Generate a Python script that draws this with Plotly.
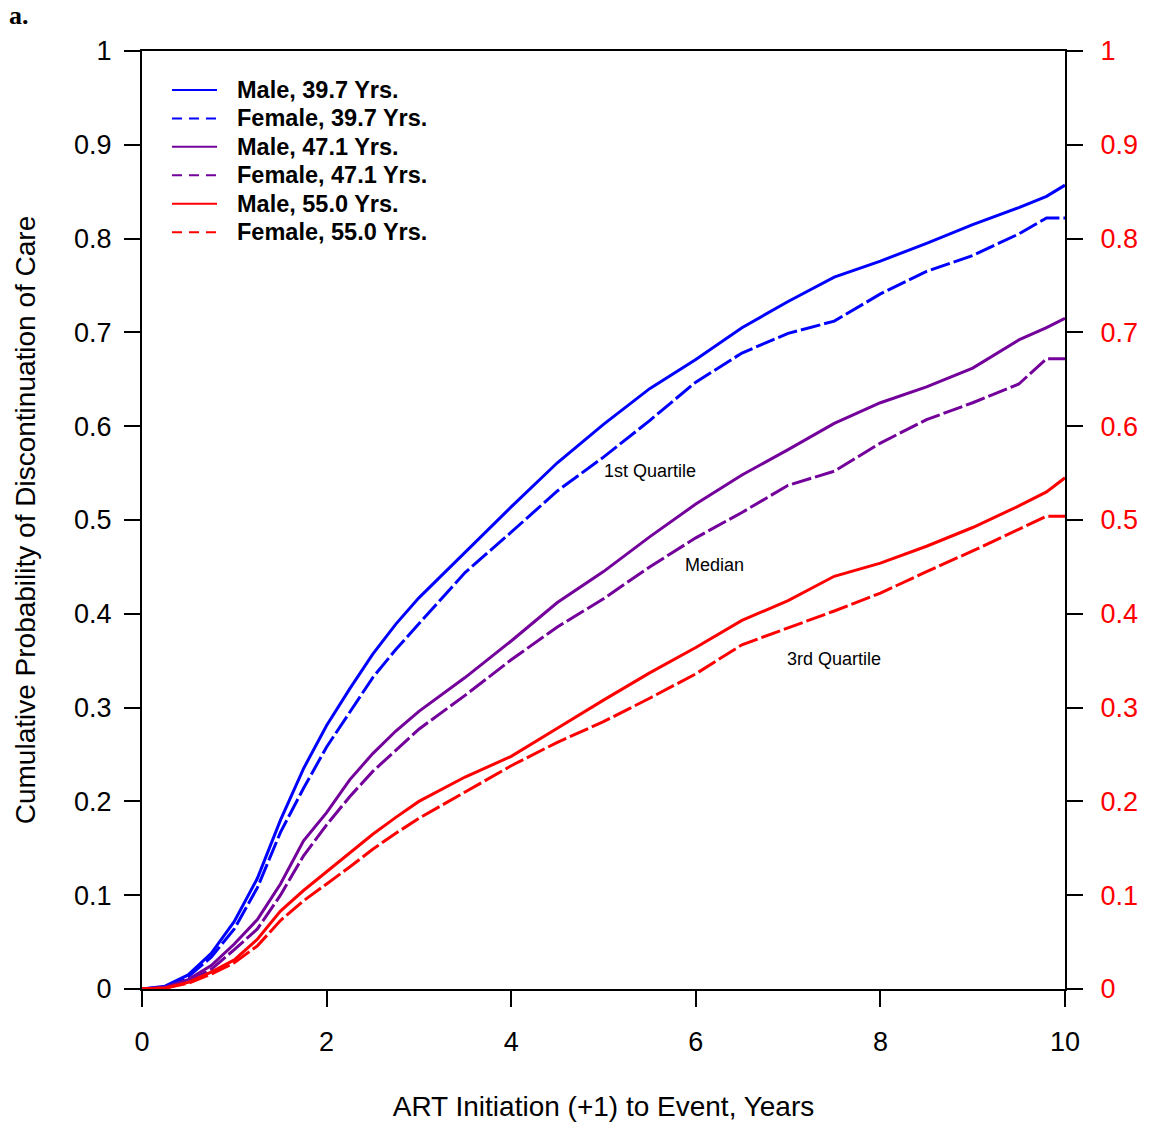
import plotly.graph_objects as go

# ---- data ----
t = [0, 0.25, 0.5, 0.75, 1.0, 1.25, 1.5, 1.75, 2.0, 2.25, 2.5, 2.75, 3.0, 3.5, 4.0,
     4.5, 5.0, 5.5, 6.0, 6.5, 7.0, 7.5, 8.0, 8.5, 9.0, 9.5, 9.8, 10.0]

male_397 = [0, 0.003, 0.015, 0.038, 0.072, 0.118, 0.180, 0.235, 0.281, 0.320, 0.357, 0.389, 0.417,
            0.466, 0.514, 0.561, 0.602, 0.640, 0.671, 0.705, 0.733, 0.759, 0.776, 0.795, 0.815,
            0.833, 0.845, 0.857]
female_397 = [0, 0.002, 0.013, 0.034, 0.064, 0.108, 0.167, 0.214, 0.258, 0.295, 0.332, 0.362, 0.389,
              0.444, 0.487, 0.531, 0.567, 0.606, 0.647, 0.678, 0.699, 0.712, 0.741, 0.765, 0.782,
              0.805, 0.822, 0.822]
male_471 = [0, 0.002, 0.010, 0.025, 0.048, 0.074, 0.112, 0.158, 0.188, 0.223, 0.251, 0.275, 0.296,
            0.332, 0.371, 0.412, 0.445, 0.482, 0.517, 0.548, 0.575, 0.603, 0.625, 0.642, 0.662,
            0.692, 0.705, 0.715]
female_471 = [0, 0.001, 0.008, 0.021, 0.042, 0.064, 0.100, 0.142, 0.175, 0.205, 0.232, 0.255, 0.277,
              0.313, 0.351, 0.386, 0.416, 0.450, 0.481, 0.508, 0.537, 0.552, 0.582, 0.607, 0.625,
              0.645, 0.672, 0.672]
male_550 = [0, 0.001, 0.007, 0.018, 0.031, 0.053, 0.083, 0.105, 0.125, 0.145, 0.165, 0.183, 0.200,
            0.226, 0.248, 0.278, 0.308, 0.337, 0.364, 0.393, 0.414, 0.440, 0.454, 0.472, 0.492,
            0.515, 0.530, 0.545]
female_550 = [0, 0.001, 0.006, 0.016, 0.028, 0.046, 0.073, 0.094, 0.112, 0.130, 0.149, 0.166, 0.182,
              0.210, 0.238, 0.263, 0.285, 0.310, 0.336, 0.367, 0.385, 0.403, 0.422, 0.445, 0.467,
              0.490, 0.504, 0.504]

series_names = ["Male, 39.7 Yrs.", "Female, 39.7 Yrs.", "Male, 47.1 Yrs.",
                "Female, 47.1 Yrs.", "Male, 55.0 Yrs.", "Female, 55.0 Yrs."]
series_values = [male_397, female_397, male_471, female_471, male_550, female_550]
series_colors = ["#0000FF", "#0000FF", "#74009B", "#74009B", "#FF0000", "#FF0000"]
series_dash = ["solid", "20px,4px", "solid", "20px,4px", "solid", "20px,4px"]
legend_dash = ["solid", "10px,7px", "solid", "10px,7px", "solid", "10px,7px"]
series_axis = ["y", "y", "y", "y", "y2", "y2"]

annot_text = ["1st Quartile", "Median", "3rd Quartile"]
annot_x = [5.5, 6.2, 7.5]
annot_y = [0.552, 0.452, 0.352]

x_ticks = [0, 2, 4, 6, 8, 10]
y_ticks = [0, 0.1, 0.2, 0.3, 0.4, 0.5, 0.6, 0.7, 0.8, 0.9, 1]
y_ticktext = ["0", "0.1", "0.2", "0.3", "0.4", "0.5", "0.6", "0.7", "0.8", "0.9", "1"]

FONT = "Liberation Sans, Arial, sans-serif"

fig = go.Figure()
for name, vals, col, dash, ax in zip(series_names, series_values, series_colors, series_dash, series_axis):
    fig.add_trace(go.Scatter(x=t, y=vals, mode="lines", name=name, yaxis=ax,
                             line=dict(color=col, width=3, dash=dash)))

for txt, ax, ay in zip(annot_text, annot_x, annot_y):
    fig.add_annotation(x=ax, y=ay, text=txt, showarrow=False,
                       font=dict(family=FONT, size=18, color="black"))

# legend drawn in the upper-left corner of the plot (paper coordinates)
leg_top = 0.9584
leg_step = 0.0303
for i, (name, col, dash) in enumerate(zip(series_names, series_colors, legend_dash)):
    yy = leg_top - i * leg_step
    fig.add_shape(type="line", xref="paper", yref="paper", x0=0.0325, x1=0.0813, y0=yy, y1=yy,
                  line=dict(color=col, width=2, dash=dash))
    fig.add_annotation(xref="paper", yref="paper", x=0.1007, y=yy, text="<b>" + name + "</b>",
                       showarrow=False, xanchor="left", yanchor="middle",
                       font=dict(family=FONT, size=23.5, color="black"))

fig.add_annotation(xref="paper", yref="paper", x=-0.146, y=1.038, text="<b>a.</b>",
                   showarrow=False, xanchor="left", yanchor="middle",
                   font=dict(family="Liberation Serif, Times New Roman, serif", size=26, color="black"))

fig.update_layout(
    width=1149, height=1125,
    margin=dict(l=142, r=84, t=51, b=136),
    paper_bgcolor="white", plot_bgcolor="white",
    font=dict(family=FONT, color="black"),
    showlegend=False,
    xaxis=dict(range=[0, 10], tickvals=x_ticks, ticks="outside", ticklen=16, tickwidth=2,
               tickcolor="black", showline=True, linewidth=2, linecolor="black", mirror=True,
               showgrid=False, zeroline=False, tickfont=dict(size=27, family=FONT),
               ticklabelstandoff=12, automargin=False,
               title=dict(text="ART Initiation (+1) to Event, Years", font=dict(size=28, family=FONT),
                          standoff=40)),
    yaxis=dict(range=[0, 1], tickvals=y_ticks, ticktext=y_ticktext, ticks="outside", ticklen=16,
               tickwidth=2, tickcolor="black", showline=True, linewidth=2, linecolor="black",
               showgrid=False, zeroline=False, tickfont=dict(size=27, family=FONT),
               ticklabelstandoff=7, automargin=False,
               title=dict(text="Cumulative Probability of Discontinuation of Care",
                          font=dict(size=28, family=FONT), standoff=30)),
    yaxis2=dict(range=[0, 1], overlaying="y", side="right", tickvals=y_ticks, ticktext=y_ticktext,
                ticks="outside", ticklen=16, tickwidth=2, tickcolor="black", showline=True,
                linewidth=2, linecolor="black", showgrid=False, zeroline=False,
                ticklabelstandoff=12, automargin=False,
                tickfont=dict(size=27, family=FONT, color="red")),
)

fig.write_html("out.html", config={"displayModeBar": False},
               post_script="document.body.style.margin='0px';document.body.style.overflow='hidden';")
